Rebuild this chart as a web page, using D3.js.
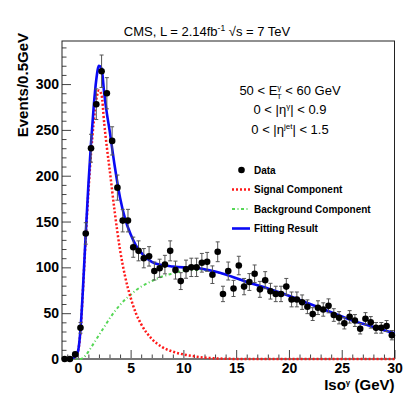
<!DOCTYPE html>
<html>
<head>
<meta charset="utf-8">
<script src="https://cdn.jsdelivr.net/npm/d3@7"></script>
<style>
    body { margin: 0; background: #fff; }
    svg { display: block; font-family: "Liberation Sans", Arial, sans-serif; }
    .tick line { stroke: #444; }
    .tick text { font-size: 14px; font-weight: bold; fill: #000; }
</style>
</head>
<body>
<div id="chart"></div>
<script>

// data points (bin centres, events per 0.5 GeV, stat. errors)
var binCenters = [-1.25, -0.75, -0.25, 0.25, 0.75, 1.25, 1.75, 2.25, 2.75, 3.25, 3.75, 4.25, 4.75,
    5.25, 5.75, 6.25, 6.75, 7.25, 7.75, 8.25, 8.75, 9.25, 9.75, 10.25, 10.75, 11.25, 11.75,
    12.25, 12.75, 13.25, 13.75, 14.25, 14.75, 15.25, 15.75, 16.25, 16.75, 17.25, 17.75,
    18.25, 18.75, 19.25, 19.75, 20.25, 20.75, 21.25, 21.75, 22.25, 22.75, 23.25, 23.75,
    24.25, 24.75, 25.25, 25.75, 26.25, 26.75, 27.25, 27.75, 28.25, 28.75, 29.25, 29.75];
var events = [0, 0, 5, 34, 137, 230, 278, 314, 290, 238, 187, 151, 151,
    122, 118, 110, 112, 96, 99, 103, 118, 97, 85, 98, 100, 100, 105,
    106, 92, 117, 71, 96, 77, 102, 79, 84, 93, 76, 86,
    74, 71, 71, 79, 65, 65, 62, 57, 49, 56, 54, 58,
    48, 45, 39, 46, 42, 33, 44, 40, 34, 34, 36, 26];
var errors = [0, 0, 2.2, 5.8, 11.7, 15.2, 16.7, 17.7, 17, 15.4, 13.7, 12.3, 12.3,
    11, 10.9, 10.5, 10.6, 9.8, 9.9, 10.1, 10.9, 9.8, 9.2, 9.9, 10, 10, 10.2,
    10.3, 9.6, 10.8, 8.4, 9.8, 8.8, 10.1, 8.9, 9.2, 9.6, 8.7, 9.3,
    8.6, 8.4, 8.4, 8.9, 8.1, 8.1, 7.9, 7.5, 7, 7.5, 7.3, 7.6,
    6.9, 6.7, 6.2, 6.8, 6.5, 5.7, 6.6, 6.3, 5.8, 5.8, 6, 5.1];

// fitted curves
var curveX = [-1.5, -1, -0.5, 0, 0.25, 0.5, 0.75, 1, 1.25, 1.5, 1.75, 2, 2.25, 2.5, 2.75, 3,
    3.5, 4, 4.5, 5, 5.5, 6, 7, 8, 9, 10, 11, 12, 13, 14, 16, 18, 20, 22, 24, 26, 28, 30];
var signalCurve = [0, 0, 1, 8, 30, 78, 133, 182, 224, 258, 283, 293, 288, 257, 231, 208,
    160, 119, 89, 67, 50, 38, 22, 13, 8, 5, 3, 1.5, 0.7, 0.3, 0, 0, 0, 0, 0, 0, 0, 0];
var backgroundCurve = [0, 0, 0, 0, 0, 1.5, 4, 8, 12.5, 17, 21.5, 26, 30.5, 35, 39.5, 44,
    52, 59, 65, 70, 75, 79, 85, 90, 93.5, 96, 97, 97, 95, 92, 84, 77, 69, 60, 51, 42, 35, 28];
var fitCurve = [0, 0, 1, 8, 32, 80, 137, 190, 236, 275, 305, 320, 317, 290, 268, 250,
    210, 176, 152, 136, 124, 116, 106, 102.5, 101, 100, 99.5, 98, 95.5, 92.2, 84, 77, 69, 60, 51, 42, 35, 28];

var xTicks = [0, 5, 10, 15, 20, 25, 30];
var yTicks = [0, 50, 100, 150, 200, 250, 300];

var legendLabels = ["Data", "Signal Component", "Background Component", "Fitting Result"];
var cutLabels = ["50 < E", "0 < |η", "0 < |η"];


/*
 * IsoVis - draws the isolation fit
 */

IsoVis = function(_parentElement){
    this.parentElement = _parentElement;
    this.initVis();
}

IsoVis.prototype.initVis = function(){
    var vis = this;

    vis.margin = {top: 41, right: 20.5, bottom: 40, left: 62};
    vis.width = 415 - vis.margin.left - vis.margin.right;
    vis.height = 359 - vis.margin.top;

    vis.root = d3.select("#" + vis.parentElement).append("svg")
        .attr("width", 415)
        .attr("height", 399);

    vis.svg = vis.root.append("g")
        .attr("transform", "translate(" + vis.margin.left + "," + vis.margin.top + ")");

    vis.x = d3.scaleLinear().domain([-1.5, 30]).range([0, vis.width]);
    vis.y = d3.scaleLinear().domain([0, 347]).range([vis.height, 0]);

    // minor ticks first
    vis.svg.append("g")
        .attr("class", "axis")
        .call(d3.axisLeft(vis.y).tickValues(d3.range(10, 347, 10).filter(d => d % 50 != 0))
            .tickSize(-4.5).tickFormat(""));
    vis.svg.append("g")
        .attr("class", "axis")
        .attr("transform", "translate(0," + vis.height + ")")
        .call(d3.axisBottom(vis.x).tickValues(d3.range(-1, 31, 1).filter(d => d % 5 != 0))
            .tickSize(-4.5).tickFormat(""));

    vis.svg.append("g")
        .attr("class", "axis")
        .call(d3.axisLeft(vis.y).tickValues(yTicks).tickSize(-9).tickPadding(3));
    vis.svg.append("g")
        .attr("class", "axis")
        .attr("transform", "translate(0," + vis.height + ")")
        .call(d3.axisBottom(vis.x).tickValues(xTicks).tickSize(-9).tickPadding(4));

    vis.svg.selectAll(".axis .domain").remove();

    // frame
    vis.svg.append("rect")
        .attr("width", vis.width)
        .attr("height", vis.height)
        .attr("fill", "none")
        .attr("stroke", "#222")
        .attr("stroke-width", 1);
    vis.svg.append("line")
        .attr("x1", 0).attr("x2", vis.width)
        .attr("y1", vis.height).attr("y2", vis.height)
        .attr("stroke", "#777").attr("stroke-width", 2);

    // (table of points for the markers)
    vis.points = binCenters.map(function(c, i){
        return {x: c, n: events[i], err: errors[i]};
    });

    vis.drawCurves();
    vis.drawData();
    vis.drawText();
}

IsoVis.prototype.drawCurves = function(){
    var vis = this;

    var line = function(vals){
        return d3.line()
            .x((d, i) => vis.x(curveX[i]))
            .y(d => vis.y(d))
            .curve(d3.curveMonotoneX)(vals);
    };

    vis.svg.append("path")
        .attr("d", line(backgroundCurve))
        .attr("fill", "none")
        .attr("stroke", "#55d655")
        .attr("stroke-width", 2)
        .attr("stroke-dasharray", "3,2.5,1,2.5");

    vis.svg.append("path")
        .attr("d", line(signalCurve))
        .attr("fill", "none")
        .attr("stroke", "#ff1a1a")
        .attr("stroke-width", 2.5)
        .attr("stroke-dasharray", "2,2");

    vis.svg.append("path")
        .attr("d", line(fitCurve))
        .attr("fill", "none")
        .attr("stroke", "#0a0af5")
        .attr("stroke-width", 2.6);
}

IsoVis.prototype.drawData = function(){
    var vis = this;

    var pts = vis.svg.selectAll(".pt")
        .data(vis.points)
        .enter().append("g")
        .attr("class", "pt")
        .attr("transform", d => "translate(" + vis.x(d.x) + ",0)");

    var withErr = pts.filter(d => d.err > 0);
    withErr.append("line")
        .attr("y1", d => vis.y(d.n - d.err))
        .attr("y2", d => vis.y(d.n + d.err))
        .attr("stroke", "#555").attr("stroke-width", 1);
    withErr.append("line")
        .attr("x1", -2).attr("x2", 2)
        .attr("y1", d => vis.y(d.n + d.err))
        .attr("y2", d => vis.y(d.n + d.err))
        .attr("stroke", "#555").attr("stroke-width", 1);
    withErr.append("line")
        .attr("x1", -2).attr("x2", 2)
        .attr("y1", d => vis.y(d.n - d.err))
        .attr("y2", d => vis.y(d.n - d.err))
        .attr("stroke", "#555").attr("stroke-width", 1);

    pts.append("circle")
        .attr("cy", d => vis.y(d.n))
        .attr("r", 3.3)
        .attr("fill", "#000");
}

IsoVis.prototype.drawText = function(){
    var vis = this;
    var r = vis.root;

    // title
    var t = r.append("text")
        .attr("x", 207).attr("y", 36)
        .attr("text-anchor", "middle")
        .attr("font-size", 13);
    t.append("tspan").text("CMS, L = 2.14fb");
    t.append("tspan").attr("dy", -5).attr("font-size", 8.5).text("-1");
    t.append("tspan").attr("dy", 5).text("  √s = 7 TeV");

    // axis titles
    r.append("text")
        .attr("transform", "translate(28,33) rotate(-90)")
        .attr("text-anchor", "end")
        .attr("font-size", 15)
        .attr("font-weight", "bold")
        .text("Events/0.5GeV");

    var xt = r.append("text")
        .attr("x", 394.5).attr("y", 390)
        .attr("text-anchor", "end")
        .attr("font-size", 15)
        .attr("font-weight", "bold");
    xt.append("tspan").text("Iso");
    xt.append("tspan").attr("dy", -5).attr("font-size", 8).text("γ");
    xt.append("tspan").attr("dy", 5).text(" (GeV)");

    // kinematic cuts
    var c1 = r.append("text").attr("x", 290).attr("y", 95)
        .attr("text-anchor", "middle").attr("font-size", 13);
    c1.append("tspan").text(cutLabels[0]);
    c1.append("tspan").attr("dy", -5).attr("font-size", 8).text("γ");
    c1.append("tspan").attr("dx", -4.5).attr("dy", 9).attr("font-size", 8).text("T");
    c1.append("tspan").attr("dy", -4).text(" < 60 GeV");

    var c2 = r.append("text").attr("x", 290).attr("y", 114)
        .attr("text-anchor", "middle").attr("font-size", 13);
    c2.append("tspan").text(cutLabels[1]);
    c2.append("tspan").attr("dy", -5).attr("font-size", 8).text("γ");
    c2.append("tspan").attr("dy", 5).text("| < 0.9");

    var c3 = r.append("text").attr("x", 290).attr("y", 134)
        .attr("text-anchor", "middle").attr("font-size", 13);
    c3.append("tspan").text(cutLabels[2]);
    c3.append("tspan").attr("dy", -5).attr("font-size", 8).text("jet");
    c3.append("tspan").attr("dy", 5).text("| < 1.5");

    // legend
    var leg = r.append("g").attr("transform", "translate(232,170)");
    var rowH = 19.5;
    leg.append("circle").attr("cx", 9.5).attr("cy", 0).attr("r", 3.3).attr("fill", "#000");
    leg.append("line").attr("x1", 0).attr("x2", 18).attr("y1", rowH).attr("y2", rowH)
        .attr("stroke", "#ff1a1a").attr("stroke-width", 2.5).attr("stroke-dasharray", "2,2");
    leg.append("line").attr("x1", 0).attr("x2", 18).attr("y1", 2 * rowH).attr("y2", 2 * rowH)
        .attr("stroke", "#55d655").attr("stroke-width", 2).attr("stroke-dasharray", "3,2.5,1,2.5");
    leg.append("line").attr("x1", 0).attr("x2", 18).attr("y1", 3 * rowH).attr("y2", 3 * rowH)
        .attr("stroke", "#0a0af5").attr("stroke-width", 2.6);

    leg.selectAll(".lab")
        .data(legendLabels)
        .enter().append("text")
        .attr("class", "lab")
        .attr("x", 22)
        .attr("y", (d, i) => i * rowH + 3.8)
        .attr("font-size", 10)
        .attr("font-weight", "bold")
        .text(d => d);
}

new IsoVis("chart");

</script>
</body>
</html>
